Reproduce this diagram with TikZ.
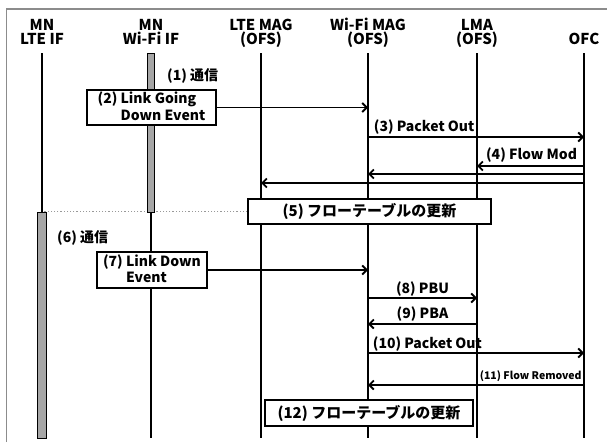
\documentclass[tikz,border=0pt]{standalone}
\usepackage{fontspec}
\setmainfont{Noto Sans CJK JP}
\usetikzlibrary{arrows.meta}

\begin{document}
\begin{tikzpicture}[
    x=1pt, y=-1pt,
    hdr/.style={font=\fontsize{15}{14}\selectfont\bfseries, align=center,
        inner sep=0pt, text depth=0pt, anchor=south},
    life/.style={line width=2pt},
    actbar/.style={draw, line width=0.8pt, fill=black!35},
    msg/.style={line width=1.8pt, -{Straight Barb[length=4.5pt,width=9pt]}},
    lbl/.style={font=\fontsize{14}{14}\selectfont\bfseries, inner sep=0pt},
    small/.style={font=\fontsize{10.5}{12}\selectfont\bfseries, inner sep=0pt},
    evbox/.style={draw, line width=1.6pt, fill=white, align=left, inner sep=0pt,
        font=\fontsize{14}{14}\selectfont\bfseries},
    upd/.style={draw, line width=1.6pt, fill=white, inner sep=0pt,
        font=\fontsize{15}{14}\selectfont\bfseries},
    dotline/.style={black!40, line width=1.2pt, dotted},
    frame/.style={black!45, line width=1.5pt}
]
\useasboundingbox (0,0) rectangle (607,442);

% --- frame of the figure ---
\draw[frame] (6.5,442) -- (6.5,9) -- (607,9);

% --- rows of the messages ---
\coordinate (bot) at (0,438);
\coordinate (sw) at (0,212);
\foreach \r/\y in {3/137, 4/166, 4b/174, 4c/183, 8/298, 9/324, 10/353, 11/385} {
    \coordinate (r\r) at (0,\y);
}

% --- lifelines ---
\foreach \nm/\x/\txt in {lteif/42/{MN\\LTE IF}, wifiif/151/{MN\\Wi-Fi IF},
        ltemag/261/{LTE MAG\\(OFS)}, wifimag/368/{Wi-Fi MAG\\(OFS)},
        lma/477/{LMA\\(OFS)}, ofc/584/{OFC}} {
    \node[hdr] (\nm-h) at (\x,45) {\txt};
    \coordinate (\nm) at (\x,53);
}

\node[upd, minimum width=243pt, minimum height=25pt] (box5) at (369.5,211.5)
    {(5) フローテーブルの更新};
\draw[dotline] (box5.west) -- (box5.west -| lteif);

\foreach \nm in {lteif, wifiif, ltemag, wifimag, lma, ofc} {
    \draw[life] (\nm) -- (\nm |- bot);
}
\draw[actbar] ([xshift=-3.5pt]wifiif) rectangle ([xshift=3.5pt]wifiif |- sw);
\draw[actbar] ([xshift=-4.5pt]lteif |- sw) rectangle ([xshift=4.5pt]lteif |- bot);

% --- before the handover: (1)-(5) ---
\node[lbl, anchor=base west] (c1) at (167,80) {(1) 通信};
\node[evbox, minimum width=129pt, minimum height=35pt]
    (box2) at (151.5,107.5) {(2) Link Going\\\phantom{(2) }Down Event};
\draw[msg] (box2.east) -- (box2.east -| wifimag);

\draw[msg] (r3 -| wifimag) -- node[lbl, pos=0, anchor=base west, xshift=5pt, yshift=6pt]
    (l3) {(3) Packet Out} (r3 -| ofc);
\draw[msg] (r4 -| ofc) -- node[lbl, pos=0, anchor=base east, xshift=-6pt, yshift=7pt]
    (l4) {(4) Flow Mod} (r4 -| lma);
\draw[msg] (r4b -| ofc) -- (r4b -| wifimag);
\draw[msg] (r4c -| ofc) -- (r4c -| ltemag);
\node[upd, minimum width=243pt, minimum height=25pt] at (box5) {(5) フローテーブルの更新};

% --- after the handover: (6)-(12) ---
\node[lbl, anchor=base west] (c6) at (57,242) {(6) 通信};
\node[evbox, minimum width=110pt, minimum height=36pt]
    (box7) at (152,270) {(7) Link Down\\\phantom{(7) }Event};
\draw[msg] (box7.east) -- (box7.east -| wifimag);

\draw[msg] (r8 -| wifimag) -- node[lbl, midway, anchor=base, yshift=5pt]
    (l8) {(8) PBU} (r8 -| lma);
\draw[msg] (r9 -| lma) -- node[lbl, midway, anchor=base, yshift=6pt]
    (l9) {(9) PBA} (r9 -| wifimag);
\draw[msg] (r10 -| wifimag) -- node[lbl, pos=0, anchor=base west, xshift=4pt, yshift=5pt]
    (l10) {(10) Packet Out} (r10 -| ofc);
\draw[msg] (r11 -| ofc) -- node[small, pos=0, anchor=base east, xshift=-1.5pt, yshift=6pt]
    (l11) {(11) Flow Removed} (r11 -| wifimag);

\node[upd, minimum width=208pt, minimum height=26pt] (box12) at (369,413)
    {(12) フローテーブルの更新};

\end{tikzpicture}
\end{document}
